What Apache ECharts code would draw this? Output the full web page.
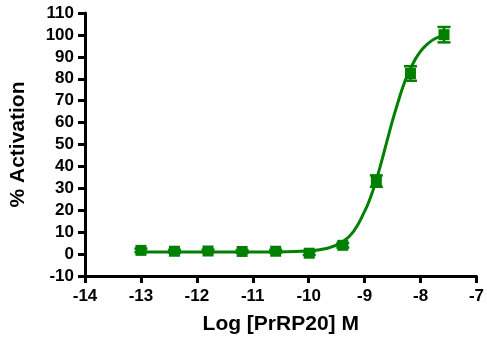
<!DOCTYPE html>
<html lang="en" style="height: 100%">
<head>
<meta charset="utf-8">
<title>PrRP20 dose response</title>
</head>
<body style="height: 100%; margin: 0">
<div id="container" style="height: 100%"></div>
<script type="text/javascript" src="https://cdn.jsdelivr.net/npm/echarts/dist/echarts.min.js"></script>
<script type="text/javascript">
// measured points: log concentration, mean % activation, error
var logDose = [-13.0, -12.4, -11.8, -11.19, -10.59, -9.99, -9.39, -8.79, -8.18, -7.58];
var activation = [1.7, 1.3, 1.4, 1.2, 1.3, 0.4, 4.0, 33.3, 82.4, 100.1];
var errors = [0.8, 0.6, 0.6, 0.6, 0.6, 0.8, 1.0, 2.6, 3.3, 3.5];

// fitted curve
var curveX = [-13.0, -12.0, -11.0, -10.4, -10.0, -9.8, -9.6, -9.4, -9.2, -9.0, -8.9, -8.8, -8.7,
  -8.6, -8.5, -8.4, -8.3, -8.2, -8.1, -8.0, -7.9, -7.8, -7.7, -7.58];
var curveY = [1.0, 1.0, 1.0, 1.1, 1.5, 2.0, 3.2, 5.5, 10.3, 19.5, 25.5, 33.0, 42.0,
  51.5, 61.0, 69.5, 77.4, 83.6, 88.6, 92.5, 95.3, 97.4, 98.8, 99.8];

var green = '#008000';

var pts = logDose.map(function (x, i) { return [x, activation[i]]; });
var bars = logDose.map(function (x, i) { return [x, activation[i] - errors[i], activation[i] + errors[i]]; });
var curve = curveX.map(function (x, i) { return [x, curveY[i]]; });

var dom = document.getElementById('container');
var myChart = echarts.init(dom);

var axisFont = {fontFamily: 'Liberation Sans', fontWeight: 'bold', fontSize: 17, color: '#000'};
var nameFont = {fontFamily: 'Liberation Sans', fontWeight: 'bold', fontSize: 21, color: '#000'};

var option = {
  animation: false,
  grid: {left: 83, right: 9, top: 13, bottom: 63},
  xAxis: {
    type: 'value',
    min: -14,
    max: -7,
    interval: 1,
    name: 'Log [PrRP20] M',
    nameLocation: 'middle',
    nameGap: 38,
    nameTextStyle: nameFont,
    axisLine: {onZero: false, lineStyle: {color: '#000', width: 3}},
    axisTick: {length: 7, lineStyle: {color: '#000', width: 3}},
    axisLabel: Object.assign({margin: 12}, axisFont),
    splitLine: {show: false}
  },
  yAxis: {
    type: 'value',
    min: -10,
    max: 110,
    interval: 10,
    name: '% Activation',
    nameLocation: 'middle',
    nameGap: 56,
    nameTextStyle: nameFont,
    axisLine: {show: true, onZero: false, lineStyle: {color: '#000', width: 3}},
    axisTick: {show: true, length: 7, lineStyle: {color: '#000', width: 3}},
    axisLabel: Object.assign({margin: 11}, axisFont),
    splitLine: {show: false}
  },
  series: [
    {
      type: 'line',
      data: curve,
      smooth: true,
      showSymbol: false,
      lineStyle: {color: green, width: 3},
      z: 2
    },
    {
      type: 'custom',
      data: bars,
      z: 3,
      renderItem: function (params, api) {
        var x = api.value(0);
        var lo = api.coord([x, api.value(1)]);
        var hi = api.coord([x, api.value(2)]);
        var w = 6.5;
        var st = {stroke: green, lineWidth: 2.5};
        return {
          type: 'group',
          children: [
            {type: 'line', shape: {x1: lo[0], y1: lo[1], x2: hi[0], y2: hi[1]}, style: st},
            {type: 'line', shape: {x1: lo[0] - w, y1: lo[1], x2: lo[0] + w, y2: lo[1]}, style: st},
            {type: 'line', shape: {x1: hi[0] - w, y1: hi[1], x2: hi[0] + w, y2: hi[1]}, style: st}
          ]
        };
      }
    },
    {
      type: 'scatter',
      data: pts,
      symbol: 'rect',
      symbolSize: 11,
      itemStyle: {color: green, opacity: 1},
      z: 4
    }
  ]
};

myChart.setOption(option);
window.addEventListener('resize', myChart.resize);
</script>
</body>
</html>
